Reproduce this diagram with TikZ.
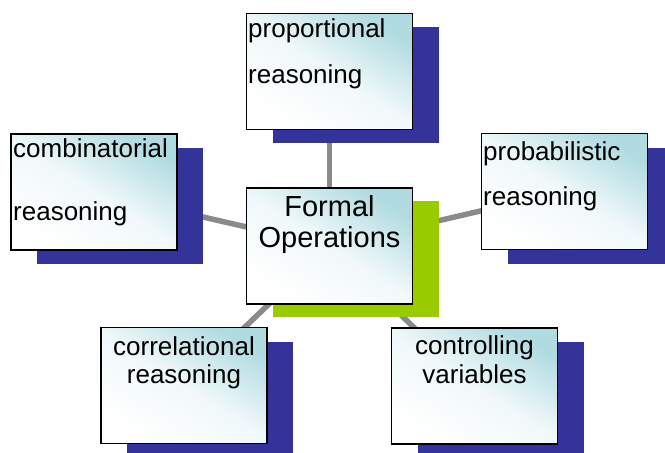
\documentclass[tikz,border=0pt]{standalone}
\usepackage{fontspec}
\setmainfont{Liberation Sans}
\usetikzlibrary{backgrounds}
\definecolor{shadowblue}{RGB}{51,51,153}
\definecolor{shadowgreen}{RGB}{153,204,0}
\definecolor{boxteal}{RGB}{176,219,225}
\definecolor{linkgray}{RGB}{138,138,138}
\begin{document}
\begin{tikzpicture}[x=1pt,y=-1pt,
  box/.style={draw=black, line width=1.5pt, minimum width=166pt, minimum height=116pt,
    inner sep=0pt, top color=boxteal, bottom color=white, middle color=white!82!boxteal, shading angle=-32},
  shadowbox/.style={fill=shadowblue, draw=none, minimum width=166pt, minimum height=116pt, inner sep=0pt},
  link/.style={draw=linkgray, line width=5.5pt},
  txt/.style={inner sep=0pt, font=\fontsize{26}{30}\selectfont},
  bigtxt/.style={inner sep=0pt, font=\fontsize{29}{32}\selectfont}]
\useasboundingbox (0,0) rectangle (665,453);
% shadows
\node[shadowbox] (sprop) at (356,85) {};
\node[shadowbox] (scomb) at (120,206) {};
\node[shadowbox] (sprob) at (590.5,205.5) {};
\node[shadowbox] (scorr) at (210,399.5) {};
\node[shadowbox] (sctrl) at (500.5,400) {};
\node[shadowbox, fill=shadowgreen] (scent) at (355.5,259) {};
% boxes
\node[box] (prop) at (329.5,71.5) {};
\node[box] (comb) at (94,192) {};
\node[box] (prob) at (564.5,191.5) {};
\node[box] (corr) at (184,385.5) {};
\node[box] (ctrl) at (474.5,386) {};
\node[box] (cent) at (329.5,246) {};
% texts
\node[txt, anchor=base west] (prop1) at (248,37) {proportional};
\node[txt, anchor=base west] (prop2) at (248,83) {reasoning};
\node[txt, anchor=base west] (comb1) at (13,157) {combinatorial};
\node[txt, anchor=base west] (comb2) at (13,220) {reasoning};
\node[txt, anchor=base west] (prob1) at (483,160) {probabilistic};
\node[txt, anchor=base west] (prob2) at (483,205) {reasoning};
\node[txt, anchor=base] (corr1) at (184,355) {correlational};
\node[txt, anchor=base] (corr2) at (184,383) {reasoning};
\node[txt, anchor=base] (ctrl1) at (474.5,354) {controlling};
\node[txt, anchor=base] (ctrl2) at (474.5,383) {variables};
\node[bigtxt, anchor=base] (cent1) at (329.5,216) {Formal};
\node[bigtxt, anchor=base] (cent2) at (329.5,247) {Operations};
% connectors (behind)
\begin{scope}[on background layer]
\draw[link] (cent.center) -- (prop.center);
\draw[link] (cent.center) -- (comb.center);
\draw[link] (cent.center) -- (prob.center);
\draw[link] (cent.center) -- (corr.center);
\draw[link] (cent.center) -- (ctrl.center);
\end{scope}
\end{tikzpicture}
\end{document}
